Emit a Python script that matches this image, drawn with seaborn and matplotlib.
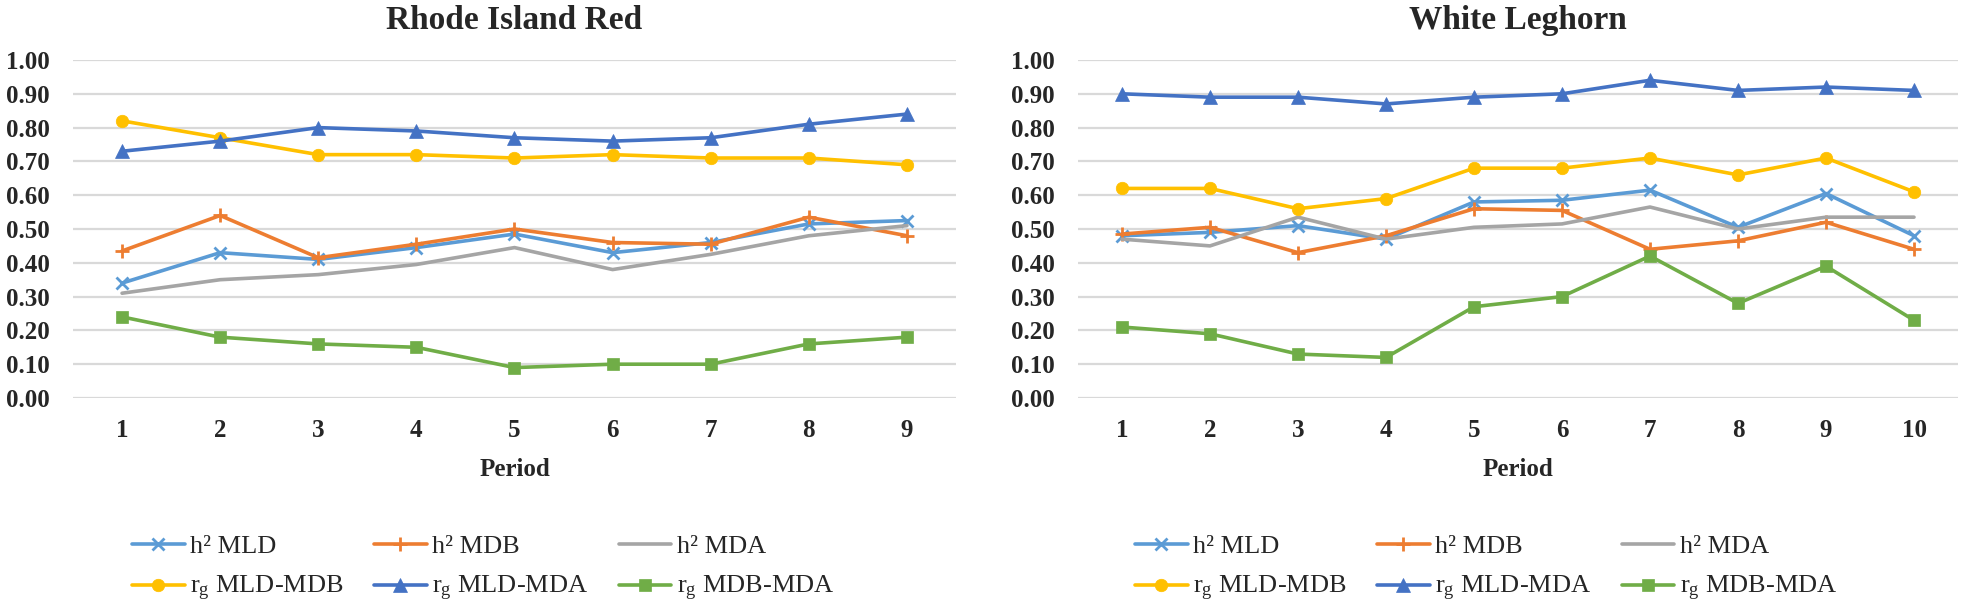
import numpy as np
import pandas as pd
import matplotlib
matplotlib.use("Agg")
import matplotlib.pyplot as plt
import seaborn as sns

# ---------------- data ----------------
periods_rir = [1, 2, 3, 4, 5, 6, 7, 8, 9]
periods_wl = [1, 2, 3, 4, 5, 6, 7, 8, 9, 10]

rir_h2_mld = [0.34, 0.43, 0.41, 0.445, 0.485, 0.43, 0.46, 0.515, 0.525]
rir_h2_mdb = [0.435, 0.54, 0.415, 0.455, 0.50, 0.46, 0.455, 0.535, 0.48]
rir_h2_mda = [0.31, 0.35, 0.365, 0.395, 0.445, 0.38, 0.425, 0.48, 0.51]
rir_rg_mld_mdb = [0.82, 0.77, 0.72, 0.72, 0.71, 0.72, 0.71, 0.71, 0.69]
rir_rg_mld_mda = [0.73, 0.76, 0.80, 0.79, 0.77, 0.76, 0.77, 0.81, 0.84]
rir_rg_mdb_mda = [0.24, 0.18, 0.16, 0.15, 0.09, 0.10, 0.10, 0.16, 0.18]

wl_h2_mld = [0.48, 0.49, 0.51, 0.47, 0.58, 0.585, 0.615, 0.505, 0.605, 0.48]
wl_h2_mdb = [0.485, 0.505, 0.43, 0.48, 0.56, 0.555, 0.44, 0.465, 0.52, 0.44]
wl_h2_mda = [0.47, 0.45, 0.535, 0.47, 0.505, 0.515, 0.565, 0.50, 0.535, 0.535]
wl_rg_mld_mdb = [0.62, 0.62, 0.56, 0.59, 0.68, 0.68, 0.71, 0.66, 0.71, 0.61]
wl_rg_mld_mda = [0.90, 0.89, 0.89, 0.87, 0.89, 0.90, 0.94, 0.91, 0.92, 0.91]
wl_rg_mdb_mda = [0.21, 0.19, 0.13, 0.12, 0.27, 0.30, 0.42, 0.28, 0.39, 0.23]

series_labels = ["h² MLD", "h² MDB", "h² MDA",
                 r"r$_\mathregular{g}$ MLD-MDB", r"r$_\mathregular{g}$ MLD-MDA",
                 r"r$_\mathregular{g}$ MDB-MDA"]
titles = ["Rhode Island Red", "White Leghorn"]
y_ticks = [0.0, 0.1, 0.2, 0.3, 0.4, 0.5, 0.6, 0.7, 0.8, 0.9, 1.0]
x_label = "Period"

# ---------------- style ----------------
colors = ["#5B9BD5", "#ED7D31", "#A5A5A5", "#FFC000", "#4472C4", "#70AD47"]
markers = ["x", "+", None, "o", "^", "s"]
msizes = [9, 10, 0, 9, 10, 8]

sns.set_theme(style="white")
plt.rcParams["font.family"] = ["Liberation Serif", "DejaVu Serif"]
plt.rcParams["mathtext.fontset"] = "custom"
plt.rcParams["mathtext.rm"] = "Liberation Serif"
plt.rcParams["mathtext.it"] = "Liberation Serif:italic"

W, H = 1962, 608
fig = plt.figure(figsize=(W / 100, H / 100), dpi=100)

def px_axes(x0, x1, ytop, ybot):
    return fig.add_axes([x0 / W, 1 - ybot / H, (x1 - x0) / W, (ybot - ytop) / H])

ax_l = px_axes(73, 956, 60, 398)
ax_r = px_axes(1078, 1958, 60, 398)

panels = [
    (ax_l, periods_rir, [rir_h2_mld, rir_h2_mdb, rir_h2_mda, rir_rg_mld_mdb, rir_rg_mld_mda, rir_rg_mdb_mda]),
    (ax_r, periods_wl, [wl_h2_mld, wl_h2_mdb, wl_h2_mda, wl_rg_mld_mdb, wl_rg_mld_mda, wl_rg_mdb_mda]),
]

legend_x = [132, 1135]

for (ax, per, series), title, lx in zip(panels, titles, legend_x):
    for vals, lab, c, m, ms in zip(series, series_labels, colors, markers, msizes):
        df = pd.DataFrame({"Period": per, "value": vals})
        kw = dict(marker=m, markersize=ms, markeredgewidth=2 if m in ("x", "+") else 0.5,
                  markeredgecolor=c, markerfacecolor=c) if m else {}
        sns.lineplot(data=df, x="Period", y="value", ax=ax, color=c, linewidth=2.6,
                     label=lab, zorder=3, **kw)
    ax.set_xlim(0.5, len(per) + 0.5)
    ax.set_ylim(0, 1.0)
    ax.set_yticks(y_ticks)
    ax.set_yticklabels([f"{v:.2f}" for v in y_ticks])
    ax.set_xticks(per)
    ax.set_xticklabels([str(p) for p in per])
    ax.yaxis.grid(True, color="#D9D9D9", linewidth=1.6, zorder=0)
    ax.xaxis.grid(False)
    ax.set_axisbelow(True)
    for s in ax.spines.values():
        s.set_visible(False)
    ax.tick_params(axis="both", length=0, labelsize=18)
    ax.tick_params(axis="y", pad=17)
    ax.tick_params(axis="x", pad=15)
    for t in ax.get_xticklabels() + ax.get_yticklabels():
        t.set_fontweight("bold")
    ax.set_xlabel(x_label, fontsize=18, fontweight="bold", labelpad=12)
    ax.set_ylabel("")
    ax.set_title(title, fontsize=24, fontweight="bold", pad=22)
    ax.get_legend().remove()
    handles, labels = ax.get_legend_handles_labels()
    order = [0, 3, 1, 4, 2, 5]
    fig.legend([handles[i] for i in order], [labels[i] for i in order],
               loc="upper left", bbox_to_anchor=(lx / W, 1 - 535 / H),
               ncol=3, frameon=False, fontsize=19, handlelength=2.0,
               handletextpad=0.2, columnspacing=1.15, labelspacing=0.6,
               borderpad=0, borderaxespad=0)

fig.savefig("out.png", dpi=100)
